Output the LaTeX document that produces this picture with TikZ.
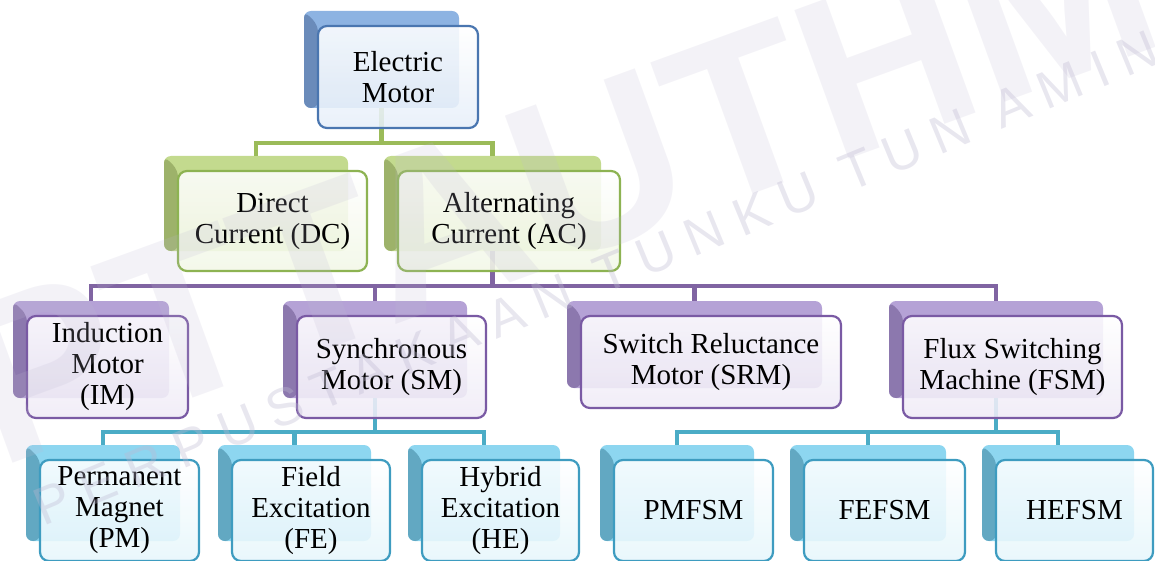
\documentclass[tikz,border=0pt]{standalone}
\usepackage{fontspec}
\setmainfont{Liberation Serif}
\newfontfamily\wmfont[LetterSpace=26]{Liberation Sans}
\newfontfamily\wmbigfont{Liberation Sans}
\usepackage{tikz}
\definecolor{blueEdge}{HTML}{4A76B0}
\definecolor{blueTop}{HTML}{8DB3E2}
\definecolor{blueSide}{HTML}{6A8BBA}
\definecolor{greenEdge}{HTML}{8DB352}
\definecolor{greenTop}{HTML}{C3DA8E}
\definecolor{greenSide}{HTML}{9DB26A}
\definecolor{greenWire}{HTML}{9BBB59}
\definecolor{purpleEdge}{HTML}{7A5AA4}
\definecolor{purpleTop}{HTML}{B5A2D6}
\definecolor{purpleSide}{HTML}{8C78AE}
\definecolor{purpleWire}{HTML}{8064A2}
\definecolor{aquaEdge}{HTML}{3E9CC0}
\definecolor{aquaTop}{HTML}{8DD6F0}
\definecolor{aquaSide}{HTML}{62A8C2}
\definecolor{aquaWire}{HTML}{4BACC6}
\definecolor{wmcolor}{HTML}{BEB9D2}
\tikzstyle{box} = [rounded corners=9pt, line width=2.2pt, align=center, inner sep=0pt, fill opacity=0.88, text opacity=1, font=\fontsize{29}{31}\selectfont]
\tikzstyle{boxone} = [box, draw=blueEdge, top color=white, bottom color=blueTop!22!white]
\tikzstyle{boxtwo} = [box, draw=greenEdge, top color=white, bottom color=greenTop!22!white]
\tikzstyle{boxthree} = [box, draw=purpleEdge, top color=white, bottom color=purpleTop!22!white]
\tikzstyle{boxfour} = [box, draw=aquaEdge, top color=white, bottom color=aquaTop!22!white]
\tikzstyle{shd} = [rounded corners=7pt, inner sep=0pt]
\tikzstyle{shdone} = [shd, fill=blueTop, path picture={\fill[blueSide] (path picture bounding box.north west) -- ++(14pt,-14pt) -- ([xshift=14pt]path picture bounding box.south west) -- (path picture bounding box.south west) -- cycle;}]
\tikzstyle{shdtwo} = [shd, fill=greenTop, path picture={\fill[greenSide] (path picture bounding box.north west) -- ++(14pt,-14pt) -- ([xshift=14pt]path picture bounding box.south west) -- (path picture bounding box.south west) -- cycle;}]
\tikzstyle{shdthree} = [shd, fill=purpleTop, path picture={\fill[purpleSide] (path picture bounding box.north west) -- ++(14pt,-14pt) -- ([xshift=14pt]path picture bounding box.south west) -- (path picture bounding box.south west) -- cycle;}]
\tikzstyle{shdfour} = [shd, fill=aquaTop, path picture={\fill[aquaSide] (path picture bounding box.north west) -- ++(14pt,-14pt) -- ([xshift=14pt]path picture bounding box.south west) -- (path picture bounding box.south west) -- cycle;}]
\tikzstyle{wire} = [line width=4.5pt]

\begin{document}
\begin{tikzpicture}
			\useasboundingbox (0,0) rectangle (1155pt,-561pt);
			% shadow boxes
			\node[shdone, minimum width=155pt, minimum height=97pt] (emS) at (381.5pt,-59.5pt) {};
			\node[shdtwo, minimum width=184pt, minimum height=95pt] (dcS) at (256pt,-203.5pt) {};
			\node[shdtwo, minimum width=217pt, minimum height=95pt] (acS) at (492.5pt,-203.5pt) {};
			\node[shdthree, minimum width=156pt, minimum height=97pt] (imS) at (91pt,-349.5pt) {};
			\node[shdthree, minimum width=184pt, minimum height=97pt] (smS) at (375pt,-349.5pt) {};
			\node[shdthree, minimum width=255pt, minimum height=87pt] (srmS) at (694.5pt,-344.5pt) {};
			\node[shdthree, minimum width=214pt, minimum height=97pt] (fsmS) at (996pt,-349.5pt) {};
			\node[shdfour, minimum width=154pt, minimum height=96pt] (pmS) at (103pt,-493pt) {};
			\node[shdfour, minimum width=153pt, minimum height=96pt] (feS) at (294.5pt,-493pt) {};
			\node[shdfour, minimum width=152pt, minimum height=96pt] (heS) at (484pt,-493pt) {};
			\node[shdfour, minimum width=154pt, minimum height=96pt] (pmfsmS) at (677pt,-493pt) {};
			\node[shdfour, minimum width=156pt, minimum height=96pt] (fefsmS) at (868pt,-493pt) {};
			\node[shdfour, minimum width=152pt, minimum height=96pt] (hefsmS) at (1058pt,-493pt) {};
			% bus levels
			\coordinate (gbus) at (0,-143pt);
			\coordinate (pbus) at (0,-286pt);
			\coordinate (abus) at (0,-432pt);
			% connectors
			\draw[wire, greenWire] (emS.south) -- (emS |- gbus);
			\draw[wire, greenWire] (dcS.north) -- (dcS |- gbus) -- (acS |- gbus) -- (acS.north);
			\draw[wire, purpleWire] (acS.south) -- (acS |- pbus);
			\draw[wire, purpleWire] (imS.north) -- (imS |- pbus) -- (fsmS |- pbus) -- (fsmS.north);
			\draw[wire, purpleWire] (smS |- pbus) -- (smS.north);
			\draw[wire, purpleWire] (srmS |- pbus) -- (srmS.north);
			\draw[wire, aquaWire] (smS.south) -- (smS |- abus);
			\draw[wire, aquaWire] (pmS.north) -- (pmS |- abus) -- (heS |- abus) -- (heS.north);
			\draw[wire, aquaWire] (feS |- abus) -- (feS.north);
			\draw[wire, aquaWire] (fsmS.south) -- (fsmS |- abus);
			\draw[wire, aquaWire] (pmfsmS.north) -- (pmfsmS |- abus) -- (hefsmS |- abus) -- (hefsmS.north);
			\draw[wire, aquaWire] (fefsmS |- abus) -- (fefsmS.north);
			% front boxes
			\node[boxone, minimum width=160pt, minimum height=102pt] (em) at (398pt,-77pt) {Electric\\Motor};
			\node[boxtwo, minimum width=189pt, minimum height=100pt] (dc) at (272.5pt,-221pt) {Direct\\Current (DC)};
			\node[boxtwo, minimum width=222pt, minimum height=100pt] (ac) at (509pt,-221pt) {Alternating\\Current (AC)};
			\node[boxthree, minimum width=161pt, minimum height=102pt] (im) at (107.5pt,-367pt) {Induction\\Motor\\(IM)};
			\node[boxthree, minimum width=189pt, minimum height=102pt] (sm) at (391.5pt,-367pt) {Synchronous\\Motor (SM)};
			\node[boxthree, minimum width=260pt, minimum height=92pt] (srm) at (711pt,-362pt) {Switch Reluctance\\Motor (SRM)};
			\node[boxthree, minimum width=219pt, minimum height=102pt] (fsm) at (1012.5pt,-367pt) {Flux Switching\\Machine (FSM)};
			\node[boxfour, minimum width=159pt, minimum height=101pt] (pm) at (119.5pt,-510.5pt) {Permanent\\Magnet\\(PM)};
			\node[boxfour, minimum width=158pt, minimum height=101pt] (fe) at (311pt,-510.5pt) {Field\\Excitation\\(FE)};
			\node[boxfour, minimum width=157pt, minimum height=101pt] (he) at (500.5pt,-510.5pt) {Hybrid\\Excitation\\(HE)};
			\node[boxfour, minimum width=159pt, minimum height=101pt] (pmfsm) at (693.5pt,-510.5pt) {PMFSM};
			\node[boxfour, minimum width=161pt, minimum height=101pt] (fefsm) at (884.5pt,-510.5pt) {FEFSM};
			\node[boxfour, minimum width=157pt, minimum height=101pt] (hefsm) at (1074.5pt,-510.5pt) {HEFSM};
			% watermark
			\node[anchor=base west, rotate=20, text=wmcolor, text opacity=0.18, font=\wmbigfont\bfseries\fontsize{230}{230}\selectfont] (wmbig) at (-5pt,-470pt) {PTTAUTHM};
			\node[anchor=base west, rotate=22.5, text=wmcolor, text opacity=0.35, font=\wmfont\fontsize{53}{53}\selectfont] (wmline) at (40pt,-528pt) {PERPUSTAKAAN TUNKU TUN AMINAH};
		\end{tikzpicture}
\end{document}
